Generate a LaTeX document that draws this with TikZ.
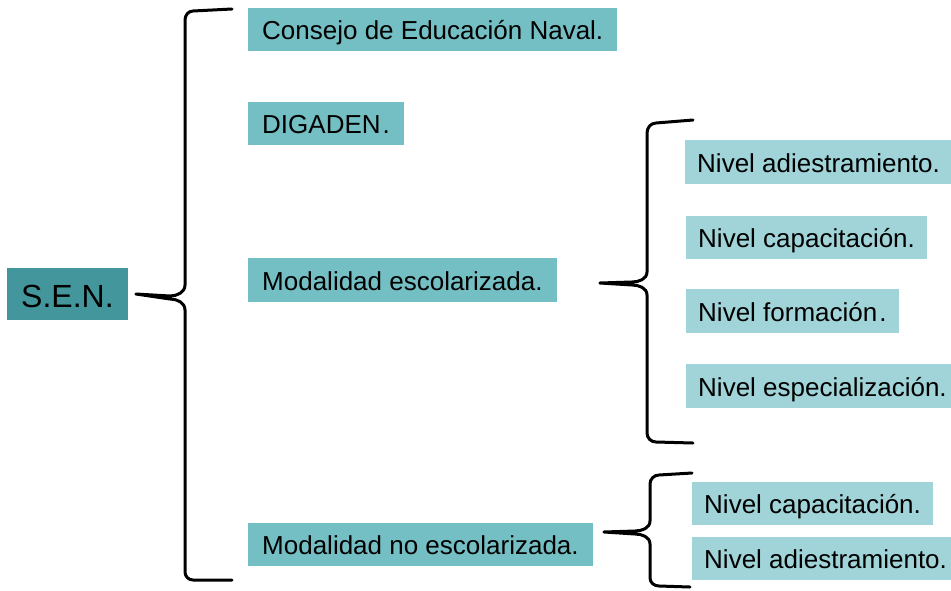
\documentclass[tikz,border=0pt]{standalone}
\usepackage{fontspec}
\setmainfont{Liberation Sans}
\usepackage{tikz}
\usetikzlibrary{positioning}
\definecolor{darkteal}{HTML}{43969B}
\definecolor{midteal}{HTML}{74BFC4}
\definecolor{lightteal}{HTML}{A0D4D8}
\tikzset{
  box/.style={fill=midteal, anchor=west, inner xsep=14pt, inner ysep=0pt,
    minimum height=43pt, text height=22pt, text depth=1pt,
    font=\fontsize{26}{31}\selectfont},
  subbox/.style={box, fill=lightteal, inner xsep=12pt},
  brace/.style={line width=3pt, line cap=round, line join=round},
}

\begin{document}
\begin{tikzpicture}[x=1pt, y=-1pt]
\useasboundingbox (0,0) rectangle (951,590);
% root
\node[box, fill=darkteal, minimum height=52pt, text height=27pt, text depth=1pt,
  font=\fontsize{32}{37}\selectfont] (sen) at (7,294) {S.E.N.};
% first level
\node[box] (consejo) at (248,29) {Consejo de Educación Naval.};
\node[box] (digaden) at (248,123) {DIGADEN\kern2pt.};
\node[box, minimum height=44pt] (esc) at (248,280) {Modalidad escolarizada.};
\node[box] (noesc) at (248,544) {Modalidad no escolarizada.};
% second level
\node[subbox, minimum height=44pt] (adi) at (685,162) {Nivel adiestramiento.};
\node[subbox] (cap) at (686,237) {Nivel capacitación.};
\node[subbox, minimum height=44pt] (form) at (686,311) {Nivel formación\kern2pt.};
\node[subbox, minimum height=44pt] (esp) at (686,386) {Nivel especialización.};
\node[subbox] (capb) at (692,503) {Nivel capacitación.};
\node[subbox] (adib) at (692,558) {Nivel adiestramiento.};
% brace tips
\coordinate (t1) at ([xshift=8pt]sen.east);
\coordinate (t2) at ([xshift=43pt,yshift=-3pt]esc.east);
\coordinate (t3) at ([xshift=11pt,yshift=12pt]noesc.east);
% braces
\draw[brace] (232,9) -- (193,11) to[out=180,in=90] (185,20) -- (185,285)
  to[out=-90,in=0] (170,296) -- (t1)
  -- (170,299) to[out=0,in=90] (185,310) -- (185,572)
  to[out=-90,in=180] (193,580) -- (232,580);
\draw[brace] (693,120) -- (656,123) to[out=180,in=90] (647,133) -- (647,272)
  to[out=-90,in=0] (632,282) -- (t2)
  -- (632,285) to[out=0,in=90] (647,295) -- (647,433)
  to[out=-90,in=180] (656,442) -- (693,443);
\draw[brace] (692,473) -- (659,475) to[out=180,in=90] (650,484) -- (650,521)
  to[out=-90,in=0] (635,531) -- (t3)
  -- (635,534) to[out=0,in=90] (650,544) -- (650,578)
  to[out=-90,in=180] (659,586) -- (690,587);
\end{tikzpicture}
\end{document}
